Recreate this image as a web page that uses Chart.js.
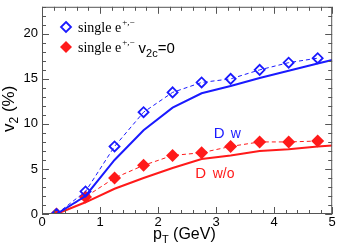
<!DOCTYPE html>
<html>
<head>
<meta charset="utf-8">
<script src="https://cdn.jsdelivr.net/npm/chart.js@4"></script>
<style>
  html, body { margin: 0; padding: 0; background: #fff; }
  #wrap { width: 339px; height: 249px; }
</style>
</head>
<body>
<div id="wrap"><canvas id="myChart" width="339" height="249"></canvas></div>
<script>
// measured points (single electrons)
const ptPoints = [0.25, 0.75, 1.25, 1.75, 2.25, 2.75, 3.25, 3.75, 4.25, 4.75];
const v2Single = [0, 2.5, 7.5, 11.3, 13.5, 14.6, 15.0, 16.0, 16.8, 17.3];
const v2SingleNoC = [0, 1.9, 4.0, 5.4, 6.5, 6.8, 7.5, 8.0, 8.0, 8.1];

// D meson curves
const ptCurve = [0.25, 0.75, 1.25, 1.75, 2.25, 2.75, 3.25, 3.75, 4.25, 4.75, 5.0];
const v2DWith = [0, 2.0, 6.0, 9.3, 11.8, 13.4, 14.2, 15.1, 15.9, 16.7, 17.1];
const v2DWithout = [0, 1.3, 2.8, 4.0, 5.1, 6.1, 6.5, 7.0, 7.2, 7.5, 7.6];

const xTicks = [0, 1, 2, 3, 4, 5];
const yTicks = [0, 5, 10, 15, 20];

const BLUE = '#1a1aff';
const RED = '#ff1a1a';
const SANS = '"Liberation Sans", Arial, sans-serif';

function pts(xs, ys) {
    return xs.map((x, i) => ({ x: x, y: ys[i] }));
}

// no extra room for edge labels, keep the plot box fixed
function noPad(s) {
    s.paddingLeft = 0; s.paddingRight = 0;
    s.paddingTop = 0; s.paddingBottom = 0;
}

// frame, inward ticks, axis titles, legend and curve labels
const decor = {
    id: 'decor',
    afterDraw(chart) {
        const ctx = chart.ctx;
        const a = chart.chartArea;
        const xs = chart.scales.x, ys = chart.scales.y;
        ctx.save();
        ctx.strokeStyle = '#555';
        ctx.lineWidth = 1;
        ctx.strokeRect(a.left + 0.5, a.top + 0.5, a.right - a.left - 1, a.bottom - a.top - 1);
        ctx.beginPath();
        for (let v = 0; v <= 5.0001; v += 0.2) {
            const px = Math.round(xs.getPixelForValue(v)) + 0.5;
            const major = Math.abs(v - Math.round(v)) < 0.01;
            const len = major ? 7 : 4;
            ctx.moveTo(px, a.bottom); ctx.lineTo(px, a.bottom - len);
            ctx.moveTo(px, a.top); ctx.lineTo(px, a.top + len);
        }
        for (let v = 0; v <= 23; v += 1) {
            const py = Math.round(ys.getPixelForValue(v)) + 0.5;
            const len = v % 5 === 0 ? 7 : 4;
            ctx.moveTo(a.left, py); ctx.lineTo(a.left + len, py);
            ctx.moveTo(a.right, py); ctx.lineTo(a.right - len, py);
        }
        ctx.stroke();

        // axis titles
        ctx.fillStyle = '#000';
        ctx.textBaseline = 'alphabetic';
        ctx.textAlign = 'left';
        ctx.font = '16px ' + SANS;
        let x0 = 153, y0 = 239;
        ctx.fillText('p', x0, y0);
        let w = ctx.measureText('p').width;
        ctx.font = '11px ' + SANS;
        ctx.fillText('T', x0 + w, y0 + 4);
        let w2 = ctx.measureText('T').width;
        ctx.font = '16px ' + SANS;
        ctx.fillText(' (GeV)', x0 + w + w2, y0);

        ctx.save();
        ctx.translate(14, 132);
        ctx.rotate(-Math.PI / 2);
        ctx.font = '17px ' + SANS;
        ctx.fillText('v', 0, 0);
        w = ctx.measureText('v').width;
        ctx.font = '12px ' + SANS;
        ctx.fillText('2', w, 4);
        w2 = ctx.measureText('2').width;
        ctx.font = '17px ' + SANS;
        ctx.fillText(' (%)', w + w2, 0);
        ctx.restore();

        // legend
        const diamond = (cx, cy, r) => {
            ctx.beginPath();
            ctx.moveTo(cx, cy - r); ctx.lineTo(cx + r, cy);
            ctx.lineTo(cx, cy + r); ctx.lineTo(cx - r, cy);
            ctx.closePath();
        };
        diamond(66, 27, 5);
        ctx.strokeStyle = BLUE; ctx.lineWidth = 1.8; ctx.stroke();
        diamond(66, 47, 6);
        ctx.fillStyle = RED; ctx.fill();

        ctx.fillStyle = '#000';
        const serif = '"Liberation Serif", "Times New Roman", serif';
        const legendLine = (y, extra) => {
            ctx.font = '14px ' + serif;
            ctx.fillText('single e', 78, y);
            let xx = 78 + ctx.measureText('single e').width;
            ctx.font = '9px ' + serif;
            ctx.fillText('+,\u2212', xx + 1, y - 7);
            xx += ctx.measureText('+,\u2212').width + 1;
            if (extra) {
                xx += 4;
                ctx.font = '15px ' + SANS;
                ctx.fillText('v', xx, y + 1);
                xx += ctx.measureText('v').width;
                ctx.font = '11px ' + SANS;
                ctx.fillText('2c', xx, y + 5);
                xx += ctx.measureText('2c').width;
                ctx.font = '15px ' + SANS;
                ctx.fillText('=0', xx, y + 1);
            }
        };
        legendLine(32, false);
        legendLine(52, true);

        // curve labels
        ctx.font = '15px ' + SANS;
        ctx.fillStyle = BLUE;
        ctx.fillText('D', xs.getPixelForValue(2.96), ys.getPixelForValue(8.4));
        ctx.font = '14px ' + SANS;
        ctx.fillText('w', xs.getPixelForValue(3.25), ys.getPixelForValue(8.4));
        ctx.fillStyle = RED;
        ctx.font = '15px ' + SANS;
        ctx.fillText('D', xs.getPixelForValue(2.64), ys.getPixelForValue(4.0));
        ctx.font = '14px ' + SANS;
        ctx.fillText('w/o', xs.getPixelForValue(2.94), ys.getPixelForValue(4.0));
        ctx.restore();
    }
};

const config = {
    type: 'line',
    data: {
        datasets: [
            {
                label: 'D w',
                data: pts(ptCurve, v2DWith),
                borderColor: BLUE,
                borderWidth: 2,
                pointRadius: 0,
                tension: 0
            },
            {
                label: 'D w/o',
                data: pts(ptCurve, v2DWithout),
                borderColor: RED,
                borderWidth: 2,
                pointRadius: 0,
                tension: 0
            },
            {
                label: 'single e+,-',
                data: pts(ptPoints, v2Single),
                borderColor: BLUE,
                borderWidth: 1,
                borderDash: [4, 3],
                pointStyle: 'rectRot',
                pointRadius: 5,
                pointBorderWidth: 1.8,
                pointBackgroundColor: 'rgba(0,0,0,0)',
                pointBorderColor: BLUE,
                tension: 0
            },
            {
                label: 'single e+,- v2c=0',
                data: pts(ptPoints, v2SingleNoC),
                borderColor: RED,
                borderWidth: 1,
                borderDash: [4, 3],
                pointStyle: 'rectRot',
                pointRadius: 6.5,
                pointBorderWidth: 0,
                pointBackgroundColor: RED,
                pointBorderColor: RED,
                tension: 0
            }
        ]
    },
    options: {
        responsive: false,
        animation: false,
        layout: { padding: { top: 1, right: 5, left: 0, bottom: 0 } },
        plugins: { legend: { display: false }, tooltip: { enabled: false } },
        scales: {
            x: {
                type: 'linear',
                min: 0, max: 5,
                grid: { display: false, drawTicks: false },
                border: { display: false },
                afterFit(s) { s.height = 35; noPad(s); },
                afterBuildTicks(s) { s.ticks = xTicks.map(v => ({ value: v })); },
                ticks: {
                    color: '#000',
                    padding: 1,
                    font: { family: SANS, size: 13 }
                }
            },
            y: {
                min: 0, max: 23,
                grid: { display: false, drawTicks: false },
                border: { display: false },
                afterFit(s) { s.width = 42; noPad(s); },
                afterBuildTicks(s) { s.ticks = yTicks.map(v => ({ value: v })); },
                ticks: {
                    color: '#000',
                    padding: 4,
                    font: { family: SANS, size: 13 }
                }
            }
        }
    },
    plugins: [decor]
};

const myChart = new Chart(document.getElementById('myChart'), config);
</script>
</body>
</html>
